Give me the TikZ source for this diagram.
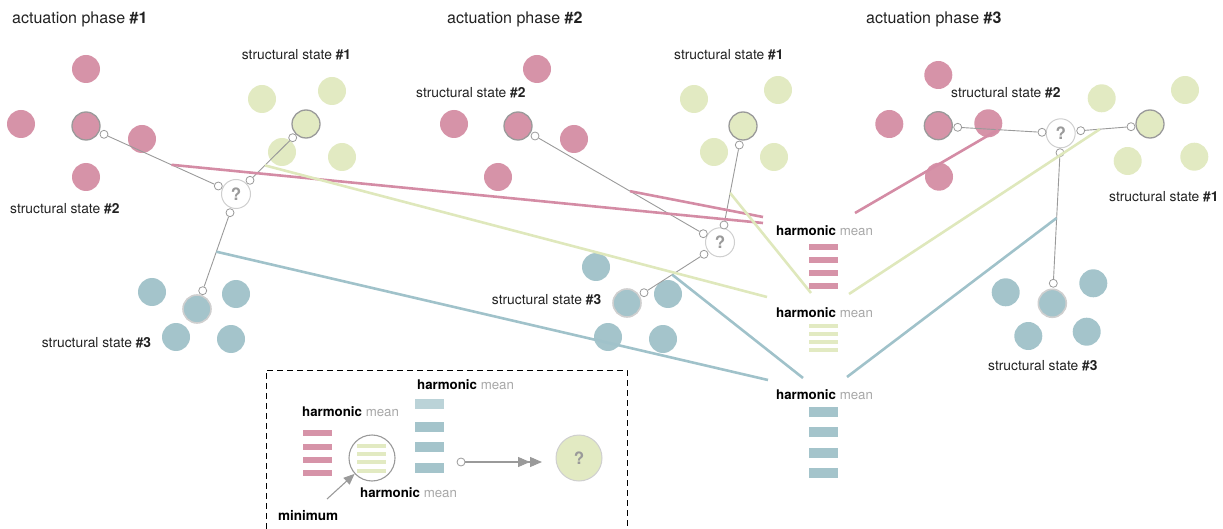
\documentclass[tikz,border=0pt]{standalone}
\usepackage{fontspec}
\setmainfont{TeX Gyre Heros}
\usetikzlibrary{calc,arrows.meta}

\definecolor{pinkc}{HTML}{D693A8}
\definecolor{greenc}{HTML}{E2EAC2}
\definecolor{tealc}{HTML}{A4C4CB}
\definecolor{pinkw}{HTML}{D48CA5}
\definecolor{greenw}{HTML}{DFE8BC}
\definecolor{tealw}{HTML}{A0C2CA}
\definecolor{linegray}{HTML}{9A9A9A}
\definecolor{ringgray}{HTML}{CFCFCF}
\definecolor{meangray}{HTML}{A8A8A8}
\definecolor{inkc}{HTML}{222222}

\tikzset{
  dot/.style={circle, minimum size=28pt, inner sep=0pt, draw=none},
  pinkdot/.style={dot, fill=pinkc},
  greendot/.style={dot, fill=greenc},
  tealdot/.style={dot, fill=tealc},
  chosen/.style={draw=linegray, line width=1.3pt},
  chosenlight/.style={draw=ringgray, line width=1.6pt},
  port/.style={circle, minimum size=8pt, inner sep=0pt, fill=white, draw=linegray, line width=0.8pt},
  query/.style={circle, minimum size=29pt, inner sep=0pt, fill=white, draw=ringgray, line width=1pt,
    text=linegray, font=\fontsize{17}{17}\selectfont\bfseries},
  wire/.style={draw=linegray, line width=0.9pt},
  pinkwire/.style={draw=pinkw, line width=2.6pt},
  greenwire/.style={draw=greenw, line width=2.6pt},
  tealwire/.style={draw=tealw, line width=2.6pt},
  title/.style={anchor=west, inner sep=0pt, text=inkc, font=\fontsize{16}{18}\selectfont},
  statelabel/.style={anchor=west, inner sep=0pt, text=inkc, font=\fontsize{13.8}{16}\selectfont},
  hmean/.style={anchor=west, inner sep=0pt, text=black, font=\fontsize{13.3}{15}\selectfont},
  bar/.style={rectangle, minimum width=29pt, inner sep=0pt, draw=none},
  pinkbar/.style={bar, fill=pinkc, minimum height=6pt},
  greenbar/.style={bar, fill=greenc, minimum height=4pt},
  tealbar/.style={bar, fill=tealc, minimum height=10pt},
}
\newcommand{\hmtext}{{\bfseries harmonic} \textcolor{meangray}{mean}}

\begin{document}
\begin{tikzpicture}[x=1pt, y=-1pt]
\useasboundingbox (0,0) rectangle (1223,529);

% ---------- titles ----------
\node[title] (t1) at (12,19) {actuation phase {\bfseries\#1}};
\node[title] (t2) at (447,19) {actuation phase {\bfseries\#2}};
\node[title] (t3) at (866,19) {actuation phase {\bfseries\#3}};

% ---------- phase 1 ----------
\node[pinkdot] (a1p1) at (86,69) {};
\node[pinkdot] (a1p2) at (21,124) {};
\node[pinkdot, chosen] (a1pk) at (86,126) {};
\node[pinkdot] (a1p3) at (142,139) {};
\node[pinkdot] (a1p4) at (86,177) {};
\node[greendot] (a1g1) at (262,99) {};
\node[greendot] (a1g2) at (332,91) {};
\node[greendot, chosen] (a1gk) at (306,124) {};
\node[greendot] (a1g3) at (282,152) {};
\node[greendot] (a1g4) at (342,157) {};
\node[tealdot] (a1t1) at (152,292) {};
\node[tealdot] (a1t2) at (236,294) {};
\node[tealdot, chosenlight] (a1tk) at (197,309) {};
\node[tealdot] (a1t3) at (176,337) {};
\node[tealdot] (a1t4) at (231,339) {};
\node[statelabel] (a1l1) at (241.7,55) {structural state {\bfseries\#1}};
\node[statelabel] (a1l2) at (10,209) {structural state {\bfseries\#2}};
\node[statelabel] (a1l3) at (41.7,343) {structural state {\bfseries\#3}};

% ---------- phase 2 ----------
\node[pinkdot] (a2p1) at (537,69) {};
\node[pinkdot] (a2p2) at (454,124) {};
\node[pinkdot, chosen] (a2pk) at (518,126) {};
\node[pinkdot] (a2p3) at (574,139) {};
\node[pinkdot] (a2p4) at (498,177) {};
\node[greendot] (a2g1) at (694,99) {};
\node[greendot] (a2g2) at (778,90) {};
\node[greendot, chosen] (a2gk) at (743,126) {};
\node[greendot] (a2g3) at (714,152) {};
\node[greendot] (a2g4) at (774,157) {};
\node[tealdot] (a2t1) at (596,267) {};
\node[tealdot] (a2t2) at (668,294) {};
\node[tealdot, chosenlight] (a2tk) at (627,303) {};
\node[tealdot] (a2t3) at (608,337) {};
\node[tealdot] (a2t4) at (663,339) {};
\node[statelabel] (a2l1) at (674,55) {structural state {\bfseries\#1}};
\node[statelabel] (a2l2) at (416,93) {structural state {\bfseries\#2}};
\node[statelabel] (a2l3) at (491.7,300) {structural state {\bfseries\#3}};

% ---------- phase 3 ----------
\node[pinkdot] (a3p1) at (938.3,75) {};
\node[pinkdot] (a3p2) at (889.3,124) {};
\node[pinkdot, chosen] (a3pk) at (938.3,125.7) {};
\node[pinkdot] (a3p3) at (988.3,123.3) {};
\node[pinkdot] (a3p4) at (939,176.7) {};
\node[greendot] (a3g1) at (1101.7,98.3) {};
\node[greendot] (a3g2) at (1185,90) {};
\node[greendot, chosen] (a3gk) at (1150,124) {};
\node[greendot] (a3g3) at (1127.7,161) {};
\node[greendot] (a3g4) at (1194.3,156.7) {};
\node[tealdot] (a3t1) at (1005.7,292.3) {};
\node[tealdot] (a3t2) at (1093.3,283.3) {};
\node[tealdot, chosenlight] (a3tk) at (1052.3,303.3) {};
\node[tealdot] (a3t3) at (1028.3,336) {};
\node[tealdot] (a3t4) at (1086.7,331.7) {};
\node[statelabel] (a3l1) at (1109,197) {structural state {\bfseries\#1}};
\node[statelabel] (a3l2) at (951,93) {structural state {\bfseries\#2}};
\node[statelabel] (a3l3) at (988,366) {structural state {\bfseries\#3}};

% ---------- harmonic mean stacks ----------
\node[hmean] (hm1) at (776,231) {\hmtext};
\foreach \y [count=\i] in {247,260,273,286} \node[pinkbar] (hm1b\i) at (823.5,\y) {};
\node[hmean] (hm2) at (776,313) {\hmtext};
\foreach \y [count=\i] in {326,334,342,350} \node[greenbar] (hm2b\i) at (823.5,\y) {};
\node[hmean] (hm3) at (776,395) {\hmtext};
\foreach \y [count=\i] in {412,432,453,473} \node[tealbar] (hm3b\i) at (823.5,\y) {};

% free ends of the coloured wires at the stacks
\coordinate (e1p) at (763,223);
\coordinate (e2p) at (763,217);
\coordinate (e3p) at (855,213);
\coordinate (e1g) at (767,297);
\coordinate (e2g) at (811,293);
\coordinate (e3g) at (849,294);
\coordinate (e1t) at (768,380);
\coordinate (e2t) at (803,378);
\coordinate (e3t) at (847,377);

% ---------- ports and query nodes ----------
\node[query] (q1) at (236,194) {?};
\node[port] (q1l) at (218.3,186) {};
\node[port] (q1r) at (250,180.3) {};
\node[port] (q1b) at (230,212.7) {};
\node[port] (a1pp) at (104,134.3) {};
\node[port] (a1gp) at (292.7,137.7) {};
\node[port] (a1tp) at (202.7,290.7) {};

\node[query] (q2) at (720,242.3) {?};
\node[port] (q2l) at (703.3,233.7) {};
\node[port] (q2u) at (724,225) {};
\node[port] (q2b) at (704,254.3) {};
\node[port] (a2pp) at (535,136) {};
\node[port] (a2gp) at (739.3,145) {};
\node[port] (a2tp) at (644,292.7) {};

\node[query] (q3) at (1060.7,133.3) {?};
\node[port] (q3l) at (1042,132.3) {};
\node[port] (q3r) at (1080.7,130.7) {};
\node[port] (q3b) at (1060,152.7) {};
\node[port] (a3pp) at (957.7,127.3) {};
\node[port] (a3gp) at (1131,126.7) {};
\node[port] (a3tp) at (1053.3,283.3) {};

% ---------- gray links ----------
\draw[wire] (a1pp) -- (q1l);
\draw[wire] (a1gp) -- (q1r);
\draw[wire] (q1b) -- (a1tp);
\draw[wire] (a2pp) -- (q2l);
\draw[wire] (a2gp) -- (q2u);
\draw[wire] (q2b) -- (a2tp);
\draw[wire] (a3pp) -- (q3l);
\draw[wire] (q3r) -- (a3gp);
\draw[wire] (q3b) -- (a3tp);

% ---------- coloured wires to the stacks ----------
\draw[pinkwire]  ($(a1pp)!0.59!(q1l)$) -- (e1p);
\draw[greenwire] ($(a1gp)!0.65!(q1r)$) -- (e1g);
\draw[tealwire]  ($(q1b)!0.5!(a1tp)$) -- (e1t);
\draw[pinkwire]  ($(a2pp)!0.565!(q2l)$) -- (e2p);
\draw[greenwire] ($(a2gp)!0.6!(q2u)$) -- (e2g);
\draw[tealwire]  ($(q2b)!0.53!(a2tp)$) -- (e2t);
\draw[pinkwire]  ($(a3pp)!0.48!(q3l)$) -- (e3p);
\draw[greenwire] ($(q3r)!0.38!(a3gp)$) -- (e3g);
\draw[tealwire]  ($(q3b)!0.5!(a3tp)$) -- (e3t);

% ---------- legend ----------
\coordinate (kbl) at (266,529);
\coordinate (ktl) at (266,370);
\coordinate (ktr) at (627,370);
\coordinate (kbr) at (627,529);
\draw[black, line width=1pt, dash pattern=on 6pt off 4pt] (kbl) -- (ktl) -- (ktr) -- (kbr);

\node[hmean] (kh1) at (302,412) {\hmtext};
\foreach \y [count=\i] in {433,447,459.5,472.5} \node[pinkbar] (kp\i) at (317.5,\y) {};

\node[circle, minimum size=46pt, inner sep=0pt, draw=linegray, line width=1.1pt] (kring) at (372,458) {};
\foreach \y [count=\i] in {446,454,462,471} \node[greenbar] (kg\i) at (371.5,\y) {};
\node[hmean] (kh2) at (360,493) {\hmtext};

\node[hmean] (kh3) at (417,385) {\hmtext};
\node[tealbar, opacity=0.75] (kt1) at (429.5,404) {};
\foreach \y [count=\i from 2] in {427,447,468} \node[tealbar] (kt\i) at (429.5,\y) {};

\node[statelabel, font=\fontsize{13.5}{16}\selectfont\bfseries, text=black] (kmin) at (278,516) {minimum};
\coordinate (kminarrow) at (327,499);
\draw[draw=linegray, line width=1.1pt, -{Triangle[length=11pt, width=9pt, fill=linegray]}] (kminarrow) -- (kring);

\node[port] (kport) at (461,462) {};
\node[circle, minimum size=46pt, inner sep=0pt, fill=greenc, draw=ringgray, line width=1pt,
      text=linegray, font=\fontsize{17}{17}\selectfont\bfseries] (kq) at (579,458) {?};
\coordinate (karrow) at (542,462);
\draw[draw=linegray, line width=1.1pt,
      -{Triangle[length=12pt, width=10pt, fill=linegray]Triangle[length=12pt, width=10pt, fill=linegray]}] (kport) -- (karrow);

\end{tikzpicture}
\end{document}
